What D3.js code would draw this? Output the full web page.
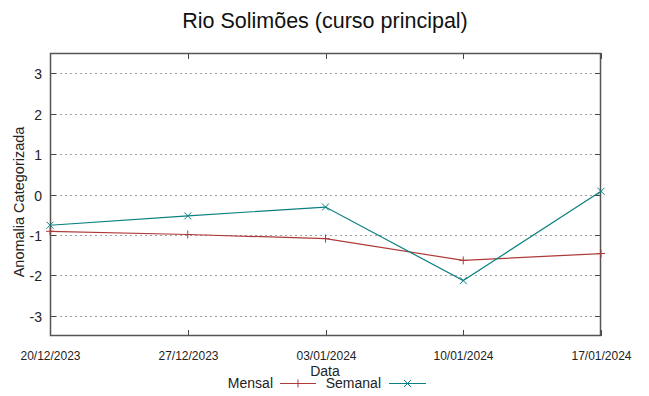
<!DOCTYPE html>
<html><head><meta charset="utf-8">
<script src="https://cdn.jsdelivr.net/npm/d3@7"></script>
<style>body{margin:0;background:#fff}svg{display:block}text{font-family:"Liberation Sans",Arial,sans-serif}</style>
</head><body>
<svg id="c" width="649" height="396"></svg>
<script>
const dates = ["2023-12-20","2023-12-27","2024-01-03","2024-01-10","2024-01-17"];
const dateLabels = ["20/12/2023","27/12/2023","03/01/2024","10/01/2024","17/01/2024"];
const mensal = [-0.91, -0.99, -1.09, -1.63, -1.46];
const semanal = [-0.76, -0.53, -0.31, -2.13, 0.08];
const yTicks = [-3,-2,-1,0,1,2,3];

const svg = d3.select("#c");
const L=50, R=601, T=53, B=336;
const parse = d3.timeParse("%Y-%m-%d");
const xd = dates.map(parse);
const x = d3.scaleTime().domain([xd[0], xd[xd.length-1]]).range([L,R]);
const y = d3.scaleLinear().domain([-3.5,3.5]).range([B,T]);

// grid
svg.append("g").selectAll("line").data(yTicks).join("line")
  .attr("x1",L).attr("x2",R).attr("y1",d=>Math.round(y(d))+0.5).attr("y2",d=>Math.round(y(d))+0.5)
  .attr("stroke","#a0a0a0").attr("stroke-width",1).attr("stroke-dasharray","2,3");

// tick marks
const tk = svg.append("g");
yTicks.forEach(d=>{
  const yy=Math.round(y(d))+0.5;
  tk.append("line").attr("x1",L).attr("x2",L+6).attr("y1",yy).attr("y2",yy).attr("stroke","#444");
  tk.append("line").attr("x1",R-6).attr("x2",R).attr("y1",yy).attr("y2",yy).attr("stroke","#444");
  tk.append("text").attr("x",L-8).attr("y",yy+5).attr("text-anchor","end").attr("font-size",14).attr("fill","#222").text(d);
});
xd.forEach((d,i)=>{
  const xx=Math.round(x(d))+0.5;
  tk.append("line").attr("x1",xx).attr("x2",xx).attr("y1",B).attr("y2",B-6).attr("stroke","#444");
  tk.append("line").attr("x1",xx).attr("x2",xx).attr("y1",T).attr("y2",T+6).attr("stroke","#444");
  tk.append("text").attr("x",xx).attr("y",360).attr("text-anchor","middle")
    .attr("font-size",12).style("font-family","'Liberation Sans Narrow','Liberation Sans',sans-serif")
    .attr("fill","#222").text(dateLabels[i]);
});

// frame
svg.append("rect").attr("x",L+0.5).attr("y",T+0.5).attr("width",R-L-1).attr("height",B-T-1)
  .attr("fill","none").attr("stroke","#555").attr("stroke-width",1.5);

const line = d3.line().x((d,i)=>x(xd[i])).y(d=>y(d));
const cRed="#b03a3a", cTeal="#0a7f7f";
svg.append("path").datum(mensal).attr("d",line).attr("fill","none").attr("stroke",cRed).attr("stroke-width",1.2);
svg.append("path").datum(semanal).attr("d",line).attr("fill","none").attr("stroke",cTeal).attr("stroke-width",1.2);

function plus(g,cx,cy,c){g.append("path").attr("d",`M${cx-4},${cy}H${cx+4}M${cx},${cy-4}V${cy+4}`).attr("stroke",c).attr("stroke-width",1);}
function cross(g,cx,cy,c){g.append("path").attr("d",`M${cx-3.5},${cy-3.5}L${cx+3.5},${cy+3.5}M${cx-3.5},${cy+3.5}L${cx+3.5},${cy-3.5}`).attr("stroke",c).attr("stroke-width",1);}
const mk=svg.append("g");
mensal.forEach((v,i)=>plus(mk,x(xd[i]),y(v),cRed));
semanal.forEach((v,i)=>cross(mk,x(xd[i]),y(v),cTeal));

// titles
svg.append("text").attr("x",325).attr("y",28).attr("text-anchor","middle").attr("font-size",21.5).attr("fill","#111").text("Rio Solimões (curso principal)");
svg.append("text").attr("transform","translate(24,202) rotate(-90)").attr("text-anchor","middle").attr("font-size",14.5).attr("fill","#222").text("Anomalia Categorizada");
svg.append("text").attr("x",325).attr("y",376).attr("text-anchor","middle").attr("font-size",14).attr("fill","#222").text("Data");

// legend
const lg=svg.append("g");
lg.append("text").attr("x",273).attr("y",388).attr("text-anchor","end").attr("font-size",14).attr("fill","#222").text("Mensal");
lg.append("line").attr("x1",280).attr("x2",316).attr("y1",383.5).attr("y2",383.5).attr("stroke",cRed).attr("stroke-width",1.2);
plus(lg,298,383.5,cRed);
lg.append("text").attr("x",381).attr("y",388).attr("text-anchor","end").attr("font-size",14).attr("fill","#222").text("Semanal");
lg.append("line").attr("x1",389).attr("x2",426).attr("y1",383.5).attr("y2",383.5).attr("stroke",cTeal).attr("stroke-width",1.2);
cross(lg,407.5,383.5,cTeal);
</script>
</body></html>
